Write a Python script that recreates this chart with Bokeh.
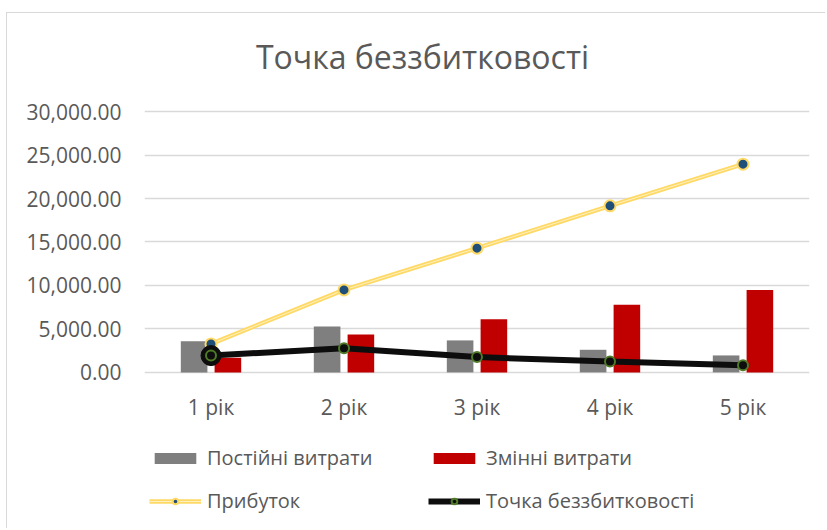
from bokeh.plotting import figure
from bokeh.models import (FactorRange, Range1d, FixedTicker, NumeralTickFormatter,
                          Legend, LegendItem, ColumnDataSource, Label)
from bokeh.transform import dodge
from bokeh.core.properties import value
from bokeh.embed import file_html
from bokeh.resources import INLINE

categories = ["1 рік", "2 рік", "3 рік", "4 рік", "5 рік"]
fixed_costs = [3570, 5290, 3680, 2600, 1950]
variable_costs = [1690, 4370, 6100, 7770, 9480]
profit = [3280, 9490, 14290, 19160, 23950]
breakeven = [1930, 2780, 1760, 1240, 830]
y_ticks = [0, 5000, 10000, 15000, 20000, 25000, 30000]
title_text = "Точка беззбитковості"
names = ["Постійні витрати", "Змінні витрати", "Прибуток", "Точка беззбитковості"]

FONT = "Open Sans"
TXT = "#595959"

src = ColumnDataSource(dict(cat=categories, fixed=fixed_costs, var=variable_costs,
                            profit=profit, be=breakeven))

# the frame spans the whole canvas height, so the title above and the legend below
# stay inside the (unclipped) frame area; grid lines only at the value ticks
p = figure(width=819, height=516, x_range=FactorRange(*categories, range_padding=0),
           y_range=Range1d(-18070, 41280), output_backend="svg", toolbar_location=None,
           min_border_left=137, min_border_right=17, min_border_top=0, min_border_bottom=0)
p.styles = {"border-left": "1px solid #d9d9d9", "border-top": "1px solid #d9d9d9",
            "margin-left": "6px", "margin-top": "12px"}
p.outline_line_color = None
p.background_fill_color = "white"
p.border_fill_color = "white"

p.add_layout(Label(x=2.09, y=36360, text=title_text, text_align="center",
                   text_baseline="middle", text_font=FONT, text_font_size="32px",
                   text_color=TXT))

p.xaxis.visible = False
p.xgrid.grid_line_color = None
p.ygrid.grid_line_color = "#d9d9d9"
p.ygrid.grid_line_width = 1.5
p.yaxis.ticker = FixedTicker(ticks=y_ticks)
p.yaxis.formatter = NumeralTickFormatter(format="0,0.00")
p.yaxis.axis_line_color = None
p.yaxis.major_tick_line_color = None
p.yaxis.minor_tick_line_color = None
p.yaxis.major_label_text_font = FONT
p.yaxis.major_label_text_font_size = "21px"
p.yaxis.major_label_text_color = TXT
p.yaxis.major_label_standoff = 17

# category labels under the baseline
p.text(x="cat", y=-4030, text="cat", source=src, text_align="center",
       text_baseline="middle", text_font=value(FONT), text_font_size="21px",
       text_color=TXT)

r_fixed = p.vbar(x=dodge("cat", -0.127, range=p.x_range), top="fixed", width=0.2,
                 source=src, fill_color="#7f7f7f", line_color=None)
r_var = p.vbar(x=dodge("cat", 0.127, range=p.x_range), top="var", width=0.2,
               source=src, fill_color="#c00000", line_color=None)

r_pl = p.line(x="cat", y="profit", source=src, line_color="#ffd966", line_width=4.5)
r_pl2 = p.line(x="cat", y="profit", source=src, line_color="#fff6d6", line_width=1, line_alpha=0.8)
r_pm = p.scatter(x="cat", y="profit", source=src, size=11, fill_color="#1f4e79",
                 line_color="#ffd966", line_width=2)

r_bl = p.line(x="cat", y="be", source=src, line_color="#0d0d0d", line_width=6)
first = ColumnDataSource(dict(cat=categories[:1], be=breakeven[:1]))
r_big = p.scatter(x="cat", y="be", source=first, size=20, fill_color="#0d0d0d",
                  line_color="#0d0d0d")
r_bm = p.scatter(x="cat", y="be", source=src, size=10, fill_color="#0d0d0d",
                 line_color="#4f7a28", line_width=2)

legend = Legend(items=[LegendItem(label=names[0], renderers=[r_fixed]),
                       LegendItem(label=names[2], renderers=[r_pl, r_pl2, r_pm]),
                       LegendItem(label=names[1], renderers=[r_var]),
                       LegendItem(label=names[3], renderers=[r_bl, r_bm])],
                ncols=2, location=(5, 15),
                glyph_width=52, glyph_height=14, label_standoff=6, spacing=16,
                label_width=205,
                padding=0, margin=0, border_line_color=None, background_fill_alpha=0,
                label_text_font=FONT, label_text_font_size="20px", label_text_color=TXT)
p.add_layout(legend, "center")

open("out.html", "w").write(file_html(p, INLINE))
